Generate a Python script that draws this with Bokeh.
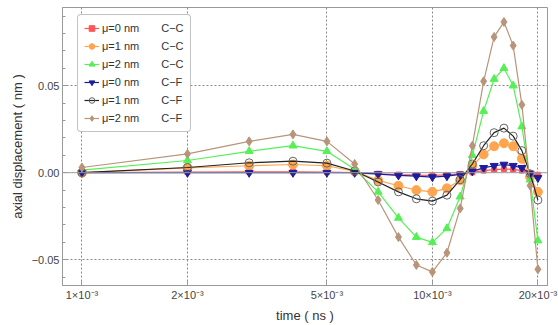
from bokeh.plotting import figure
from bokeh.models import FixedTicker, Legend, LegendItem, Span, Range1d
from bokeh.embed import file_html
from bokeh.resources import INLINE

# ---- data ----
time_ns = [0.001, 0.002, 0.003, 0.004, 0.005, 0.006, 0.007, 0.008, 0.009, 0.010,
           0.011, 0.012, 0.013, 0.014, 0.015, 0.016, 0.017, 0.018, 0.019, 0.020]

mu0_cc = [0.0, 0.0003, 0.0005, 0.0005, 0.0004, 0.0001, -0.0006, -0.0011, -0.0014, -0.0015,
          -0.0013, -0.0007, 0.0002, 0.0012, 0.0018, 0.0021, 0.0019, 0.0012, -0.0002, -0.0012]
mu1_cc = [0.0, 0.0028, 0.004, 0.0047, 0.004, 0.0008, -0.0044, -0.0075, -0.010, -0.011,
          -0.009, -0.0044, 0.004, 0.0105, 0.0152, 0.0169, 0.0152, 0.008, -0.0025, -0.011]
mu2_cc = [0.0015, 0.007, 0.0123, 0.0155, 0.0123, 0.002, -0.011, -0.026, -0.037, -0.040,
          -0.032, -0.0138, 0.010, 0.0354, 0.0538, 0.060, 0.050, 0.0265, -0.004, -0.039]
mu0_cf = [0.0, 0.0, 0.0, 0.0, 0.0, 0.0, -0.0008, -0.0015, -0.002, -0.0025,
          -0.002, -0.001, 0.0008, 0.0028, 0.004, 0.0047, 0.004, 0.0028, -0.0005, -0.003]
mu1_cf = [0.0, 0.003, 0.0057, 0.0066, 0.0055, 0.001, -0.0053, -0.011, -0.015, -0.0163,
          -0.0129, -0.004, 0.005, 0.0155, 0.023, 0.0256, 0.021, 0.0127, -0.0006, -0.0157]
mu2_cf = [0.003, 0.0108, 0.018, 0.022, 0.018, 0.005, -0.0157, -0.037, -0.053, -0.057,
          -0.046, -0.0205, 0.0155, 0.0525, 0.078, 0.0866, 0.073, 0.039, -0.0074, -0.0555]

series_labels = ["\u03bc=0 nm\u2003\u2003C\u2212C", "\u03bc=1 nm\u2003\u2003C\u2212C",
                 "\u03bc=2 nm\u2003\u2003C\u2212C", "\u03bc=0 nm\u2003\u2003C\u2212F",
                 "\u03bc=1 nm\u2003\u2003C\u2212F", "\u03bc=2 nm\u2003\u2003C\u2212F"]

x_ticks = [0.001, 0.002, 0.005, 0.010, 0.020]
x_tick_labels = ["1\u00d710\u207b\u00b3", "2\u00d710\u207b\u00b3", "5\u00d710\u207b\u00b3",
                 "10\u00d710\u207b\u00b3", "20\u00d710\u207b\u00b3"]
y_ticks = [-0.05, 0.0, 0.05]
y_tick_labels = ["\u22120.05", "0.00", "0.05"]
y_minor = [-0.06, -0.04, -0.03, -0.02, -0.01, 0.01, 0.02, 0.03, 0.04, 0.06, 0.07, 0.08, 0.09]

FONT = "Liberation Sans"

p = figure(width=558, height=325, x_axis_type="log",
           x_range=Range1d(0.00088, 0.0213), y_range=Range1d(-0.0648, 0.0949),
           output_backend="svg", toolbar_location=None,
           min_border_left=62, min_border_right=11, min_border_top=7, min_border_bottom=37)

p.outline_line_color = "#999999"
p.background_fill_color = "white"

# axes
p.xaxis.ticker = FixedTicker(ticks=x_ticks)
p.xaxis.major_label_overrides = dict(zip(x_ticks, x_tick_labels))
p.yaxis.ticker = FixedTicker(ticks=y_ticks, minor_ticks=y_minor)
p.yaxis.major_label_overrides = dict(zip(y_ticks, y_tick_labels))
for ax in (p.xaxis[0], p.yaxis[0]):
    ax.axis_line_color = "#999999"
    ax.major_tick_line_color = "#999999"
    ax.minor_tick_line_color = "#999999"
    ax.major_tick_in = 5
    ax.major_tick_out = 0
    ax.minor_tick_in = 3
    ax.minor_tick_out = 0
    ax.major_label_text_font = FONT
    ax.major_label_text_font_size = "11px"
    ax.major_label_text_color = "#444444"
    ax.axis_label_text_font = FONT
    ax.axis_label_text_font_size = "13px"
    ax.axis_label_text_font_style = "normal"
    ax.axis_label_text_color = "#333333"
    ax.major_label_standoff = 3
    ax.axis_label_standoff = 4
p.xaxis.minor_tick_line_color = None
p.xaxis.axis_label = "time ( ns )"
p.yaxis.axis_label = "axial displacement ( nm )"

# grid
p.xgrid.grid_line_color = "#888888"
p.xgrid.grid_line_dash = "2 2"
p.ygrid.ticker = FixedTicker(ticks=[-0.05, 0.05])
p.ygrid.grid_line_color = "#888888"
p.ygrid.grid_line_dash = "2 2"
p.add_layout(Span(location=0, dimension="width", line_color="#999999", line_width=1))

# series
styles = [
    dict(color="#ff5555", marker="square", size=5, fill="#ff5555", stroke="#ff5555"),
    dict(color="#ffa54f", marker="circle", size=9, fill="#ffa54f", stroke="#ffa54f"),
    dict(color="#55f055", marker="triangle", size=8, fill="#55f055", stroke="#55f055"),
    dict(color="#1c1c9c", marker="inverted_triangle", size=8, fill="#1c1c9c", stroke="#1c1c9c"),
    dict(color="#222222", marker="circle", size=8, fill=None, stroke="#666666"),
    dict(color="#b8957a", marker="diamond", size=9, fill="#b8957a", stroke="#b8957a"),
]
series = [mu0_cc, mu1_cc, mu2_cc, mu0_cf, mu1_cf, mu2_cf]

items = []
for lab, ys, st in zip(series_labels, series, styles):
    lr = p.line(time_ns, ys, line_color=st["color"], line_width=1.2)
    sr = p.scatter(time_ns, ys, marker=st["marker"], size=st["size"],
                   fill_color=st["fill"], line_color=st["stroke"], line_width=1)
    items.append(LegendItem(label=lab, renderers=[lr, sr]))

legend = Legend(items=items, location=(15, 153))
legend.label_text_font = FONT
legend.label_text_font_size = "11px"
legend.label_text_color = "#333333"
legend.glyph_width = 15
legend.glyph_height = 14
legend.spacing = 4
legend.padding = 6
legend.margin = 0
legend.label_standoff = 3
legend.border_line_color = "#888888"
legend.border_line_width = 1
legend.background_fill_alpha = 1
if "border_radius" in Legend.properties():
    legend.border_radius = 4
p.add_layout(legend)

open("out.html", "w").write(file_html(p, INLINE))
